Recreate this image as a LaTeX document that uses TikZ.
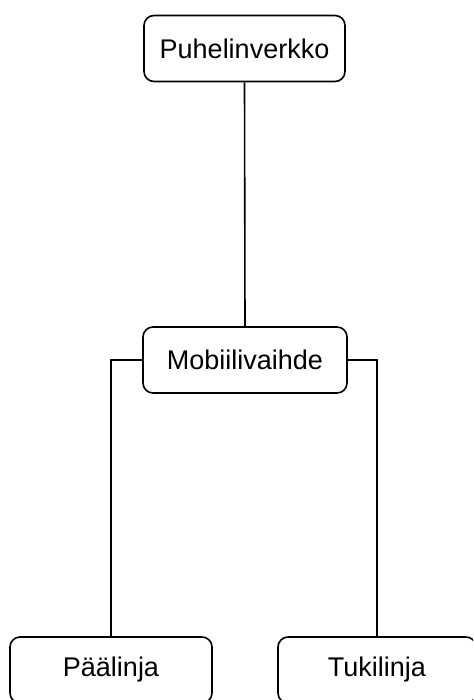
\documentclass[tikz,border=0pt]{standalone}
\usepackage{fontspec}
\setmainfont{Liberation Sans}
\begin{document}
\begin{tikzpicture}[x=1pt,y=-1pt,
  box/.style={draw=black,line width=1.6pt,rounded corners=10pt,fill=white,
    minimum height=66pt,inner sep=0pt,font=\fontsize{27}{30}\selectfont},
  conn/.style={draw=black,line width=1.6pt}]
\useasboundingbox (0,0) rectangle (473,700);
\clip (0,0) rectangle (473,700);
\node[box,minimum width=201pt] (p) at (244.5,48.5) {Puhelinverkko};
\node[box,minimum width=204pt] (m) at (245,360) {Mobiilivaihde};
\node[box,minimum width=202pt] (a) at (111,670) {Päälinja};
\node[box,minimum width=198pt] (t) at (377,670) {Tukilinja};
\draw[conn] (p.south) -- (m.north);
\draw[conn] (m.west) -| (a.north);
\draw[conn] (m.east) -| (t.north);
\end{tikzpicture}
\end{document}
